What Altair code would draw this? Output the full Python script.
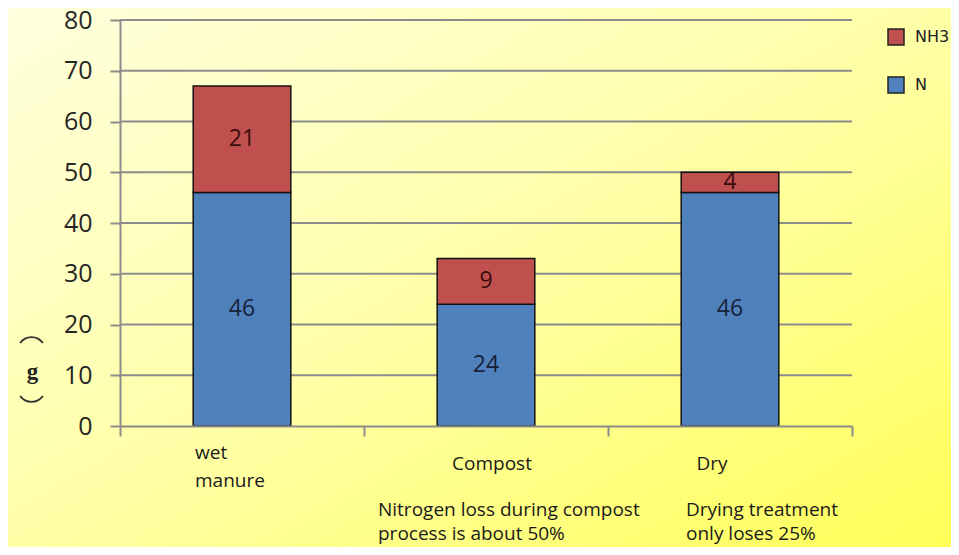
import math
import altair as alt
import pandas as pd

# ---- data ----
categories = ["wet manure", "Compost", "Dry"]
n_values = [46, 24, 46]
nh3_values = [21, 9, 4]
series_order = ["NH3", "N"]
series_colors = ["#C0504D", "#4F81BD"]
y_ticks = [0, 10, 20, 30, 40, 50, 60, 70, 80]
grid_values = [10, 20, 30, 40, 50, 60, 70, 80]
x_labels = ["wet\nmanure", "Compost", "Dry"]
notes = {"Compost": "Nitrogen loss during compost\nprocess is about 50%",
         "Dry": "Drying treatment\nonly loses 25%"}
y_unit = "g"

W, H = 732, 406
PAD = {"left": 112, "top": 12, "right": 99, "bottom": 121}
FONT = "Open Sans"
GRID = "#8c8c8c"

rows = []
for c, n, h in zip(categories, n_values, nh3_values):
    rows.append({"cat": c, "series": "N", "value": n, "start": 0, "end": n, "mid": n / 2})
    rows.append({"cat": c, "series": "NH3", "value": h, "start": n, "end": n + h, "mid": n + h / 2})
df = pd.DataFrame(rows)

x_scale = alt.Scale(domain=categories, paddingInner=0, paddingOuter=0)
y_scale = alt.Scale(domain=[0, 80], nice=False, zero=True)

x_axis = alt.Axis(title=None, labels=False, tickBand="extent", tickSize=10,
                  tickColor=GRID, tickWidth=2, domainColor=GRID, domainWidth=2,
                  grid=False, zindex=2)
y_axis = alt.Axis(values=y_ticks, grid=False, tickSize=10, tickColor=GRID, tickWidth=2,
                  domainColor=GRID, domainWidth=2, labelFont=FONT, labelFontSize=25,
                  labelColor="#262626", labelPadding=18,
                  title=y_unit, titleAngle=0, titleFont="Liberation Serif",
                  titleFontSize=23, titleFontWeight="bold", titleColor="#222222",
                  titleX=-88, titleY=358, titleAlign="center", titleBaseline="alphabetic",
                  zindex=2)

def xenc():
    return alt.X("cat:N", sort=categories, scale=x_scale, axis=x_axis)

def yenc(field):
    return alt.Y(field, scale=y_scale, axis=y_axis)

one = pd.DataFrame({"k": [0]})

bg = alt.Chart(one).mark_rect(
    fill=alt.LinearGradient(
        gradient="linear", x1=0, y1=0, x2=1, y2=1,
        stops=[alt.GradientStop(offset=0, color="#FFFFDE"),
               alt.GradientStop(offset=0.5, color="#FFFFA8"),
               alt.GradientStop(offset=1, color="#FFFF58")])
).encode(x=alt.value(-PAD["left"]), x2=alt.value(W + PAD["right"]),
         y=alt.value(-PAD["top"]), y2=alt.value(H + PAD["bottom"]))

grid = alt.Chart(pd.DataFrame({"v": grid_values})).mark_rule(
    color=GRID, strokeWidth=2
).encode(y=yenc("v:Q"), x=alt.value(0), x2=alt.value(W))

bars = alt.Chart(df).mark_bar(stroke="#111111", strokeWidth=1.5,
                              width=alt.RelativeBandSize(band=0.4)).encode(
    x=xenc(),
    y=yenc("start:Q"),
    y2="end:Q",
    color=alt.Color("series:N", scale=alt.Scale(domain=series_order, range=series_colors),
                    legend=alt.Legend(title=None, orient="none", legendX=767, legendY=8,
                                      symbolType="square", symbolSize=256,
                                      symbolStrokeColor="#222222", symbolStrokeWidth=1.5,
                                      labelFont="DejaVu Sans", labelFontSize=16,
                                      labelColor="#222222",
                                      labelOffset=10, rowPadding=26, padding=0)),
)

def seg_text(series, color):
    return alt.Chart(df).transform_filter(alt.datum.series == series).mark_text(
        font=FONT, fontSize=23, color=color, baseline="middle", align="center"
    ).encode(x=xenc(), y=yenc("mid:Q"), text="value:Q")

def label(cat, text, dx, y, align, lh):
    return alt.Chart(pd.DataFrame({"cat": [cat], "t": [text]})).mark_text(
        font=FONT, fontSize=19, color="#1a1a1a", align=align, baseline="alphabetic",
        dx=dx, lineBreak="\n", lineHeight=lh
    ).encode(x=xenc(), y=alt.value(y), text="t:N")

HALF = 0.96  # half-angle of the bracket arcs (radians)
def bracket(center_angle, y):
    # vertical-style parenthesis around the unit, drawn as a thin arc
    return alt.Chart(one).mark_arc(
        radius=14.8, radius2=12.9, color="#333333"
    ).encode(x=alt.value(-88.5), y=alt.value(y),
             theta=alt.value(center_angle - HALF), theta2=alt.value(center_angle + HALF))

layers = [bg, grid, bars, seg_text("N", "#17213a"), seg_text("NH3", "#3a0d0d"),
          label(categories[0], x_labels[0], -47, 439, "left", 28),
          label(categories[1], x_labels[1], 6, 450, "center", 28),
          label(categories[2], x_labels[2], -18, 450, "center", 28),
          label("Compost", notes["Compost"], -108, 496, "left", 24),
          label("Dry", notes["Dry"], -44, 496, "left", 24),
          bracket(2 * math.pi, 331), bracket(math.pi, 368)]

chart = alt.layer(*layers).properties(
    width=W, height=H, padding=PAD, autosize=alt.AutoSizeParams(type="none")
).configure_view(stroke=None)

chart.save("out.html", embed_options={"renderer": "svg", "actions": False})
